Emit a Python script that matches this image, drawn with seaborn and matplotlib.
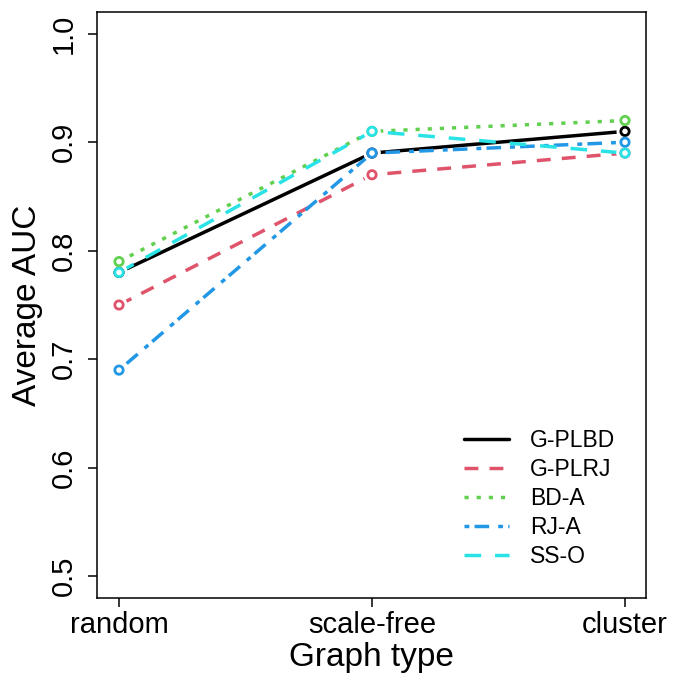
import matplotlib
matplotlib.use("Agg")
import pandas as pd
import matplotlib.pyplot as plt
import seaborn as sns

# data
graph_types = ["random", "scale-free", "cluster"]
methods = ["G-PLBD", "G-PLRJ", "BD-A", "RJ-A", "SS-O"]
auc_gplbd = [0.78, 0.89, 0.91]
auc_gplrj = [0.75, 0.87, 0.89]
auc_bda = [0.79, 0.91, 0.92]
auc_rja = [0.69, 0.89, 0.90]
auc_sso = [0.78, 0.91, 0.89]
y_ticks = [0.5, 0.6, 0.7, 0.8, 0.9, 1.0]

colors = ["#000000", "#DF536B", "#61D04F", "#2297E6", "#28E2E5"]
dash_styles = ["", (4.0, 3.2), (1.2, 2.3), (1.4, 1.5, 4.2, 2.6), (4.8, 4.0)]

rows = []
for m, vals in zip(methods, [auc_gplbd, auc_gplrj, auc_bda, auc_rja, auc_sso]):
    for g, v in zip(graph_types, vals):
        rows.append({"graph": g, "method": m, "auc": v})
df = pd.DataFrame(rows)

sns.set_style("white")
plt.rcParams["font.family"] = ["Liberation Sans", "DejaVu Sans"]
plt.rcParams["text.color"] = "black"
plt.rcParams["axes.labelcolor"] = "black"

fig = plt.figure(figsize=(6.77, 6.77), dpi=100)
ax = fig.add_axes([97 / 677, 1 - 598 / 677, 549 / 677, 586 / 677])

pal = dict(zip(methods, colors))
sns.lineplot(data=df, x="graph", y="auc", hue="method", style="method",
             hue_order=methods, style_order=methods, palette=pal,
             dashes=dict(zip(methods, dash_styles)), linewidth=2.5,
             sort=False, ax=ax)

# white halos so the lines stop short of the points, like R type="b"
sns.scatterplot(data=df, x="graph", y="auc", color="white", s=150,
                edgecolor="none", legend=False, ax=ax, zorder=3)
sns.scatterplot(data=df, x="graph", y="auc", hue="method", hue_order=methods,
                palette=pal, s=36, marker="o",
                linewidth=2.0, legend=False, ax=ax, zorder=4)
pts = ax.collections[-1]
pts.set_facecolor("white")
pts.set_edgecolor([pal[m] for m in df["method"]])

ax.set_xlim(-0.087, 2.083)
ax.set_ylim(0.48, 1.02)
ax.set_yticks(y_ticks)
ax.set_yticklabels([f"{t:.1f}" for t in y_ticks], rotation=90, va="center")
ax.tick_params(axis="both", direction="out", length=6.5, width=1.1,
               labelsize=21, color="black", labelcolor="black",
               bottom=True, left=True)
ax.tick_params(axis="y", pad=7)
ax.tick_params(axis="x", pad=3)
for s in ax.spines.values():
    s.set_color("black")
    s.set_linewidth(1.1)
ax.set_xlabel("Graph type", fontsize=24, labelpad=2)
ax.set_ylabel("Average AUC", fontsize=24, labelpad=5)

handles, labels = ax.get_legend_handles_labels()
ax.legend(handles=handles, labels=labels, frameon=False, fontsize=16.5,
          loc="upper left", bbox_to_anchor=(464 / 677, 1 - 429 / 677),
          bbox_transform=fig.transFigure, handlelength=1.96,
          handletextpad=0.92, labelspacing=0.26, borderpad=0, borderaxespad=0)

fig.savefig("out.png", dpi=100)
